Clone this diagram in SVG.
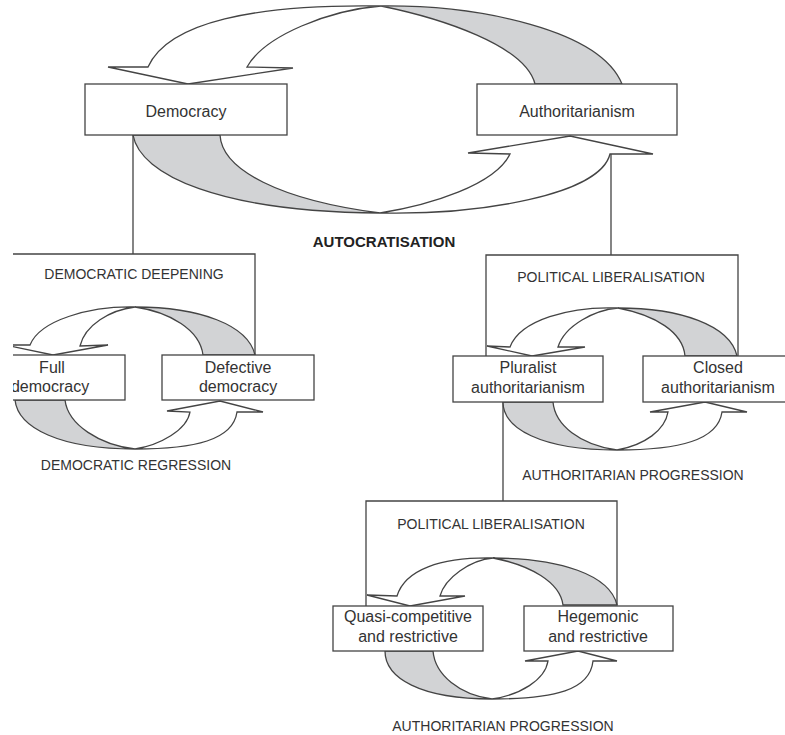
<svg xmlns="http://www.w3.org/2000/svg" width="785" height="735" viewBox="0 0 785 735">
<defs>
<clipPath id="crop"><rect x="13" y="0" width="772" height="735"/></clipPath>
<style>
.ln{fill:none;stroke:#444;stroke-width:1.3}
.w{fill:#fff;stroke:#444;stroke-width:1.3;stroke-linejoin:miter}
.g{fill:#d2d3d5;stroke:#444;stroke-width:1.3}
.box{fill:#fff;stroke:#444;stroke-width:1.3}
.t{font-family:"Liberation Sans",Arial,sans-serif;font-size:16px;fill:#333;text-anchor:middle}
.cap{font-family:"Liberation Sans",Arial,sans-serif;font-size:14px;fill:#333;text-anchor:middle}
.bold{font-family:"Liberation Sans",Arial,sans-serif;font-size:15px;font-weight:bold;fill:#222;text-anchor:middle}
</style>
</defs>
<rect width="785" height="735" fill="#fff"/>
<g clip-path="url(#crop)">
<g id="connectors">
  <!-- tree lines -->
  <path class="ln" d="M133,135 V254 M13,254 H255 V355"/>
  <path class="ln" d="M611,154 V255 M486,357 V255 H738 V356"/>
  <path class="ln" d="M503,402 V501 M366,606 V501 H617 V605"/>

  <!-- top cycle -->
  <path class="w" d="M381,6 C255,4 168,22 148,67 L108,67 L188,84 L293,68 L247,67 C265,35 330,10 381,6 Z"/>
  <path class="g" d="M381,6 C480,5 600,30 622,84 L535,84 C525,45 440,18 381,6 Z"/>
  <path class="g" d="M133,135 C140,175 220,212 380,213 C280,200 222,170 220,135 Z"/>
  <path class="w" d="M380,213 C430,205 495,185 510,154 L468,153 L570,136 L653,154 L610,154 C600,195 480,215 380,213 Z"/>

  <!-- democracy sub-cycle -->
  <path class="w" d="M135,307 C90,306 40,320 30,345 L5,345 L53,355 L108,345 L80,346 C85,325 110,310 135,307 Z"/>
  <path class="g" d="M135,307 C200,307 248,325 255,355 L203,355 C200,330 170,312 135,307 Z"/>
  <path class="g" d="M15,400 C18,428 60,449 135,449 C100,445 68,425 65,400 Z"/>
  <path class="w" d="M135,449 C160,445 187,430 190,412 L167,411 L220,401 L263,412 L237,412 C233,440 195,449 135,449 Z"/>

  <!-- authoritarian sub-cycle -->
  <path class="w" d="M618,308 C570,306 520,320 510,347 L487,346 L532,356 L585,347 L558,347 C565,325 595,310 618,308 Z"/>
  <path class="g" d="M618,308 C680,308 730,325 737,356 L685,356 C683,332 655,315 618,308 Z"/>
  <path class="g" d="M503,402 C503,428 540,450 617,450 C580,445 555,425 553,402 Z"/>
  <path class="w" d="M617,450 C645,445 665,430 668,412 L650,412 L705,402 L747,412 L722,412 C718,440 680,450 617,450 Z"/>

  <!-- pluralist sub-cycle -->
  <path class="w" d="M493,558 C440,557 405,570 397,596 L367,595 L410,606 L465,596 L440,596 C445,578 470,560 493,558 Z"/>
  <path class="g" d="M493,558 C560,558 610,575 617,605 L563,605 C560,582 530,565 493,558 Z"/>
  <path class="g" d="M385,651 C385,678 420,699 492,699 C460,695 435,675 433,651 Z"/>
  <path class="w" d="M492,699 C520,695 545,680 548,661 L525,661 L578,651 L617,661 L593,661 C590,690 555,699 492,699 Z"/>
</g>

<g id="democracy">
  <rect class="box" x="85" y="84" width="202" height="51"/>
  <text class="t" x="186" y="117">Democracy</text>
</g>
<g id="authoritarianism">
  <rect class="box" x="477" y="84" width="200" height="51"/>
  <text class="t" x="577" y="117">Authoritarianism</text>
</g>
<g id="full-democracy">
  <rect class="box" x="-25" y="355" width="150" height="45"/>
  <text class="t" x="52" y="373">Full</text>
  <text class="t" x="50" y="392">democracy</text>
</g>
<g id="defective-democracy">
  <rect class="box" x="162" y="355" width="152" height="45"/>
  <text class="t" x="238" y="373">Defective</text>
  <text class="t" x="238" y="392">democracy</text>
</g>
<g id="pluralist-authoritarianism">
  <rect class="box" x="453" y="356" width="150" height="46"/>
  <text class="t" x="528" y="373">Pluralist</text>
  <text class="t" x="528" y="393">authoritarianism</text>
</g>
<g id="closed-authoritarianism">
  <rect class="box" x="643" y="356" width="150" height="46"/>
  <text class="t" x="718" y="373">Closed</text>
  <text class="t" x="718" y="393">authoritarianism</text>
</g>
<g id="quasi-competitive">
  <rect class="box" x="333" y="606" width="150" height="45"/>
  <text class="t" x="408" y="622">Quasi-competitive</text>
  <text class="t" x="408" y="642">and restrictive</text>
</g>
<g id="hegemonic">
  <rect class="box" x="524" y="606" width="149" height="45"/>
  <text class="t" x="598" y="622">Hegemonic</text>
  <text class="t" x="598" y="642">and restrictive</text>
</g>

<g id="labels">
  <text class="bold" x="384" y="247">AUTOCRATISATION</text>
  <text class="cap" x="134" y="279">DEMOCRATIC DEEPENING</text>
  <text class="cap" x="136" y="470">DEMOCRATIC REGRESSION</text>
  <text class="cap" x="611" y="282">POLITICAL LIBERALISATION</text>
  <text class="cap" x="633" y="480">AUTHORITARIAN PROGRESSION</text>
  <text class="cap" x="491" y="529">POLITICAL LIBERALISATION</text>
  <text class="cap" x="503" y="731">AUTHORITARIAN PROGRESSION</text>
</g>
</g>
</svg>
